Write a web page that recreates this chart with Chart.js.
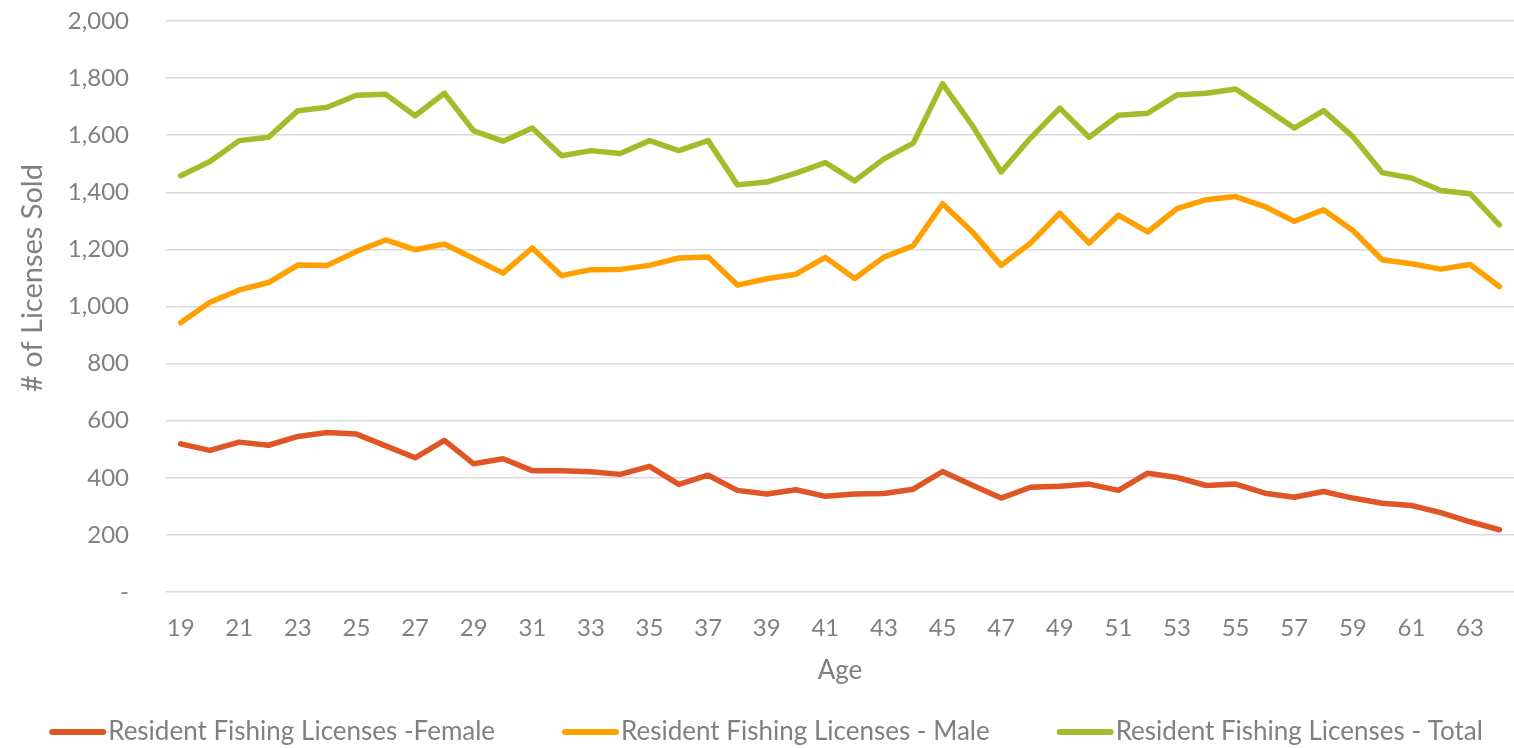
<!DOCTYPE html>
<html lang="en">
<head>
    <meta charset="UTF-8">
    <title>Resident Fishing Licenses by Age</title>
    <script src="https://cdn.jsdelivr.net/npm/chart.js"></script>
    <style>
        html, body {
            margin: 0;
            padding: 0;
            background: #ffffff;
        }
        .chart-container {
            position: relative;
            width: 1514px;
            height: 748px;
        }
    </style>
</head>
<body>
    <div class="chart-container">
        <canvas id="licenseChart"></canvas>
    </div>

    <script>
        const ages = [19, 20, 21, 22, 23, 24, 25, 26, 27, 28, 29, 30, 31, 32, 33, 34, 35, 36, 37, 38, 39, 40, 41,
            42, 43, 44, 45, 46, 47, 48, 49, 50, 51, 52, 53, 54, 55, 56, 57, 58, 59, 60, 61, 62, 63, 64];

        const femaleLicenses = [519, 496, 525, 514, 545, 559, 553, 512, 470, 531, 449, 467, 425, 425, 421, 412,
            440, 377, 409, 356, 343, 358, 335, 343, 345, 360, 422, 375, 329, 367, 370, 378, 356, 416, 401, 373,
            378, 346, 332, 352, 329, 311, 303, 278, 246, 218];

        const maleLicenses = [943, 1015, 1058, 1084, 1145, 1144, 1193, 1233, 1199, 1219, 1168, 1117, 1205, 1108,
            1129, 1130, 1144, 1170, 1173, 1075, 1097, 1113, 1172, 1098, 1173, 1213, 1360, 1263, 1144, 1222, 1327,
            1222, 1320, 1261, 1343, 1374, 1385, 1350, 1298, 1339, 1266, 1164, 1150, 1131, 1147, 1070];

        const totalLicenses = [1458, 1508, 1581, 1593, 1686, 1698, 1740, 1743, 1668, 1747, 1615, 1579, 1625, 1528,
            1546, 1536, 1581, 1546, 1581, 1426, 1436, 1467, 1504, 1440, 1517, 1572, 1780, 1636, 1471, 1590, 1695,
            1593, 1670, 1677, 1741, 1747, 1762, 1695, 1625, 1686, 1595, 1469, 1450, 1406, 1395, 1286];

        const seriesNames = ['Resident Fishing Licenses -Female', 'Resident Fishing Licenses - Male',
            'Resident Fishing Licenses - Total'];
        const seriesColors = ['#e05526', '#ffa000', '#a6ba2a'];

        const yTicks = [0, 200, 400, 600, 800, 1000, 1200, 1400, 1600, 1800, 2000];
        const yTitle = '# of Licenses Sold';
        const xTitle = 'Age';

        const textColor = '#808080';
        const fontFamily = 'Lato, "Open Sans", sans-serif';

        function lineDataset(name, values, color) {
            return {
                label: name,
                data: values,
                borderColor: color,
                backgroundColor: color,
                borderWidth: 5.5,
                borderCapStyle: 'round',
                borderJoinStyle: 'round',
                pointRadius: 0,
                pointHoverRadius: 0,
                tension: 0
            };
        }

        // y title and legend drawn by hand so they sit where the original puts them
        const sideText = {
            id: 'sideText',
            afterDraw: function (chart) {
                const c = chart.ctx;

                c.save();
                c.translate(33, 278);
                c.rotate(-Math.PI / 2);
                c.font = '29px ' + fontFamily;
                c.fillStyle = textColor;
                c.textAlign = 'center';
                c.textBaseline = 'middle';
                c.fillText(yTitle, 0, 0);
                c.restore();

                c.save();
                c.font = '26px ' + fontFamily;
                c.textBaseline = 'middle';
                c.textAlign = 'left';
                const lineLen = 57, textGap = 2, itemGap = 67, legendY = 732;
                const sets = chart.data.datasets;
                const widths = sets.map(function (d) { return c.measureText(d.label).width; });
                let total = itemGap * (sets.length - 1);
                widths.forEach(function (w) { total += lineLen + textGap + w; });
                let x = 766 - total / 2;
                sets.forEach(function (d, i) {
                    c.strokeStyle = d.borderColor;
                    c.lineWidth = 6;
                    c.lineCap = 'round';
                    c.beginPath();
                    c.moveTo(x + 3, legendY);
                    c.lineTo(x + lineLen - 3, legendY);
                    c.stroke();
                    c.fillStyle = textColor;
                    c.fillText(d.label, x + lineLen + textGap, legendY);
                    x += lineLen + textGap + widths[i] + itemGap;
                });
                c.restore();
            }
        };

        const ctx = document.getElementById('licenseChart').getContext('2d');
        const licenseChart = new Chart(ctx, {
            type: 'line',
            data: {
                labels: ages,
                datasets: [
                    lineDataset(seriesNames[0], femaleLicenses, seriesColors[0]),
                    lineDataset(seriesNames[1], maleLicenses, seriesColors[1]),
                    lineDataset(seriesNames[2], totalLicenses, seriesColors[2])
                ]
            },
            plugins: [sideText],
            options: {
                responsive: true,
                maintainAspectRatio: false,
                animation: false,
                layout: {
                    padding: { top: 21, right: 0, bottom: 42, left: 0 }
                },
                plugins: {
                    tooltip: { enabled: false },
                    legend: { display: false }
                },
                scales: {
                    x: {
                        offset: true,
                        afterFit: function (axis) {
                            axis.height = 114;
                            axis.paddingLeft = 0;
                            axis.paddingRight = 0;
                        },
                        grid: { display: false, drawTicks: false },
                        border: { display: false },
                        ticks: {
                            autoSkip: false,
                            maxRotation: 0,
                            padding: 22,
                            color: textColor,
                            font: { family: fontFamily, size: 24 },
                            callback: function (value, index) {
                                return index % 2 === 0 ? ages[index] : '';
                            }
                        },
                        title: {
                            display: true,
                            text: xTitle,
                            color: textColor,
                            font: { family: fontFamily, size: 26 },
                            padding: { top: 0, bottom: 20 }
                        }
                    },
                    y: {
                        min: 0,
                        max: 2000,
                        afterBuildTicks: function (axis) {
                            axis.ticks = yTicks.map(function (v) { return { value: v }; });
                        },
                        afterFit: function (axis) {
                            axis.width = 166;
                            axis.paddingTop = 0;
                            axis.paddingBottom = 0;
                        },
                        grid: {
                            color: '#d9d9d9',
                            lineWidth: 1.5,
                            drawTicks: false
                        },
                        border: { display: false },
                        ticks: {
                            padding: 37,
                            color: textColor,
                            font: { family: fontFamily, size: 24 },
                            callback: function (value) {
                                return value === 0 ? '-' : value.toLocaleString('en-US');
                            }
                        }
                    }
                }
            }
        });
    </script>
</body>
</html>
